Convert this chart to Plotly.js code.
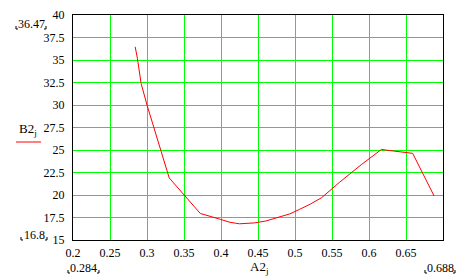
<!DOCTYPE html>
<html><head><meta charset="utf-8">
<script src="https://cdn.plot.ly/plotly-3.0.1.min.js"></script>
<style>html,body{margin:0;padding:0;background:#fff;}#c{width:467px;height:278px;}</style>
</head><body><div id="c"></div>
<script>
var A2 = [0.284, 0.287, 0.292, 0.300, 0.330, 0.350, 0.372, 0.399, 0.412, 0.425, 0.445, 0.460, 0.478, 0.493, 0.506, 0.521, 0.536, 0.560, 0.590, 0.617, 0.622, 0.644, 0.659, 0.688];
var B2 = [36.47, 35.2, 32.4, 30.0, 21.9, 20.0, 17.95, 17.3, 16.97, 16.8, 16.9, 17.1, 17.5, 17.9, 18.4, 19.0, 19.7, 21.4, 23.4, 25.07, 25.0, 24.75, 24.63, 19.89];
var xTicks = [0.2, 0.25, 0.3, 0.35, 0.4, 0.45, 0.5, 0.55, 0.6, 0.65];
var xTickText = ["0.2", "0.25", "0.3", "0.35", "0.4", "0.45", "0.5", "0.55", "0.6", "0.65"];
var yTicks = [15, 17.5, 20, 22.5, 25, 27.5, 30, 32.5, 35, 37.5, 40];
var yTickText = ["15", "17.5", "20", "22.5", "25", "27.5", "30", "32.5", "35", "37.5", "40"];
var cornerLabels = ["36.47", "16.8", "0.284", "0.688"];

var F = "Liberation Serif";
var trace = {x: A2, y: B2, mode: "lines", type: "scatter", line: {color: "#ff0000", width: 1}, hoverinfo: "none"};

function px2x(p){return (p-73)/370;}
function px2y(p){return (240-p)/225;}

// corner label boxes in pixels: [left, right, centerY, bottom]
var boxes = [[16, 46, 24, 29], [21, 47, 235, 240], [68, 99, 268, 273], [425, 455, 268, 273]];
var annotations = [];
var shapes = [];
boxes.forEach(function(b, i){
  annotations.push({xref: "paper", yref: "paper", x: px2x((b[0]+b[1])/2), y: px2y(b[2]), xanchor: "center", yanchor: "middle",
    text: cornerLabels[i], showarrow: false, font: {family: F, size: 12, color: "#000"}});
  shapes.push({type: "path", xref: "paper", yref: "paper",
    path: "M" + px2x(b[0]) + "," + px2y(b[3]-3) + " L" + px2x(b[0]) + "," + px2y(b[3]) + " L" + px2x(b[0]+2) + "," + px2y(b[3]),
    line: {color: "#000", width: 1}});
  shapes.push({type: "path", xref: "paper", yref: "paper",
    path: "M" + px2x(b[1]-2) + "," + px2y(b[3]) + " L" + px2x(b[1]) + "," + px2y(b[3]) + " L" + px2x(b[1]) + "," + px2y(b[3]-3),
    line: {color: "#000", width: 1}});
});
annotations.push({xref: "paper", yref: "paper", x: px2x(28), y: px2y(129), xanchor: "center", yanchor: "middle",
  text: "B2<sub>j</sub>", showarrow: false, font: {family: F, size: 13, color: "#000"}});
annotations.push({xref: "paper", yref: "paper", x: px2x(259), y: px2y(267), xanchor: "center", yanchor: "middle",
  text: "A2<sub>j</sub>", showarrow: false, font: {family: F, size: 13, color: "#000"}});
shapes.push({type: "line", xref: "paper", yref: "paper", x0: px2x(16), x1: px2x(41), y0: px2y(142), y1: px2y(142), line: {color: "#ff0000", width: 1}});

var layout = {
  width: 467, height: 278,
  margin: {l: 73, r: 24, t: 15, b: 38},
  paper_bgcolor: "#fff", plot_bgcolor: "#fff",
  showlegend: false,
  font: {family: F, size: 12, color: "#000"},
  xaxis: {range: [0.2, 0.7], tickvals: xTicks, ticktext: xTickText, showgrid: true, gridcolor: "#00ff00", gridwidth: 1,
          showline: true, linecolor: "#000", linewidth: 1, mirror: true, ticks: "", zeroline: false,
          tickfont: {family: F, size: 12, color: "#000"}, ticklabelstandoff: 2},
  yaxis: {range: [15, 40], tickvals: yTicks, ticktext: yTickText, showgrid: true, gridcolor: "#00ff00", gridwidth: 1,
          showline: true, linecolor: "#000", linewidth: 1, mirror: true, ticks: "", zeroline: false,
          tickfont: {family: F, size: 12, color: "#000"}, ticklabelstandoff: 5},
  annotations: annotations,
  shapes: shapes
};
Plotly.newPlot("c", [trace], layout, {staticPlot: true, displayModeBar: false});
</script>
</body></html>
